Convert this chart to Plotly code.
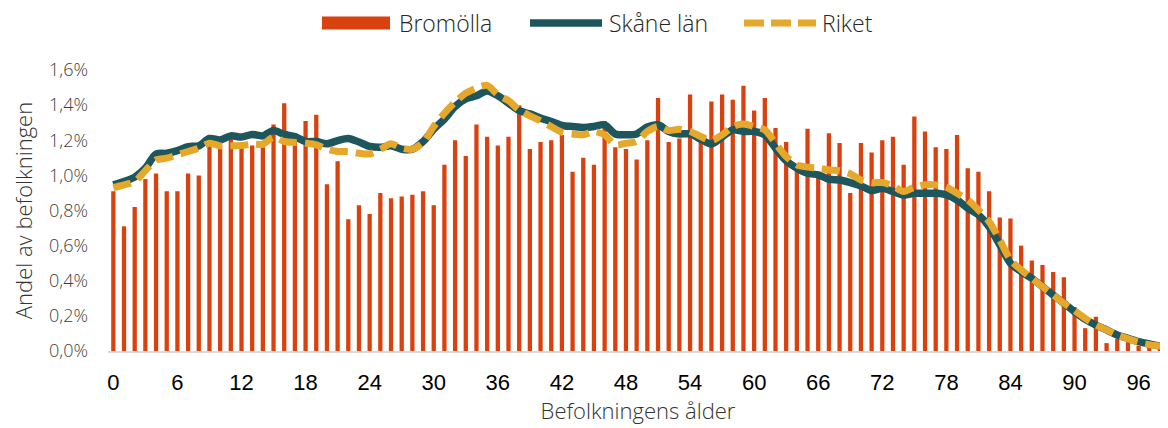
import plotly.graph_objects as go

ages = list(range(0, 100))

# Bromölla, andel av befolkningen (%)
bromolla = [0.91, 0.71, 0.82, 0.98, 1.01, 0.91, 0.91, 1.01, 1.00, 1.22,
            1.19, 1.24, 1.16, 1.17, 1.16, 1.29, 1.41, 1.24, 1.31, 1.345,
            0.95, 1.08, 0.75, 0.83, 0.78, 0.90, 0.87, 0.88, 0.89, 0.91,
            0.83, 1.06, 1.20, 1.11, 1.29, 1.22, 1.17, 1.22, 1.40, 1.15,
            1.19, 1.20, 1.23, 1.02, 1.10, 1.06, 1.31, 1.16, 1.15, 1.09,
            1.20, 1.44, 1.19, 1.21, 1.46, 1.19, 1.42, 1.46, 1.43, 1.51,
            1.37, 1.44, 1.27, 1.19, 1.05, 1.265, 1.00, 1.24, 1.185, 0.90,
            1.185, 1.13, 1.20, 1.22, 1.06, 1.335, 1.25, 1.16, 1.15, 1.23,
            1.04, 1.02, 0.91, 0.76, 0.755, 0.60, 0.515, 0.49, 0.45, 0.42,
            0.25, 0.13, 0.195, 0.045, 0.07, 0.05, 0.03, 0.02, 0.01, 0.01]

skane = [0.946, 0.965, 0.99, 1.041, 1.121, 1.126, 1.141, 1.164, 1.168, 1.21,
         1.202, 1.225, 1.218, 1.233, 1.225, 1.255, 1.233, 1.221, 1.193, 1.193,
         1.18, 1.198, 1.21, 1.19, 1.165, 1.16, 1.168, 1.149, 1.149, 1.193,
         1.263, 1.32, 1.392, 1.436, 1.453, 1.481, 1.453, 1.411, 1.368, 1.35,
         1.326, 1.307, 1.284, 1.278, 1.273, 1.278, 1.288, 1.236, 1.231, 1.236,
         1.275, 1.288, 1.25, 1.236, 1.236, 1.206, 1.178, 1.218, 1.259, 1.25,
         1.25, 1.231, 1.155, 1.083, 1.041, 1.012, 1.003, 0.978, 0.974, 0.959,
         0.94, 0.913, 0.927, 0.908, 0.889, 0.898, 0.898, 0.898, 0.889, 0.86,
         0.813, 0.775, 0.708, 0.604, 0.5, 0.452, 0.414, 0.366, 0.319, 0.272,
         0.224, 0.18, 0.148, 0.12, 0.091, 0.072, 0.053, 0.04, 0.028, 0.021]

riket = [0.93, 0.946, 0.965, 1.027, 1.088, 1.098, 1.117, 1.136, 1.155, 1.183,
         1.168, 1.168, 1.17, 1.178, 1.178, 1.218, 1.193, 1.187, 1.183, 1.174,
         1.149, 1.136, 1.136, 1.126, 1.122, 1.149, 1.18, 1.155, 1.149, 1.187,
         1.278, 1.354, 1.417, 1.468, 1.497, 1.512, 1.459, 1.425, 1.373, 1.339,
         1.311, 1.278, 1.246, 1.236, 1.231, 1.25, 1.231, 1.174, 1.183, 1.193,
         1.25, 1.278, 1.255, 1.263, 1.25, 1.221, 1.198, 1.231, 1.278, 1.292,
         1.278, 1.259, 1.183, 1.107, 1.06, 1.047, 1.041, 1.031, 1.027, 1.009,
         0.974, 0.959, 0.959, 0.94, 0.908, 0.933, 0.946, 0.946, 0.933, 0.898,
         0.86, 0.803, 0.737, 0.632, 0.519, 0.462, 0.414, 0.366, 0.319, 0.272,
         0.23, 0.186, 0.148, 0.12, 0.091, 0.07, 0.05, 0.036, 0.028, 0.02]

tick_ages = list(range(0, 97, 6))

LIGHT = "Open Sans, Lato, sans-serif"
ARIAL = "Liberation Sans, Arial, sans-serif"
BAR_COLOR = "#D9410E"
SKANE_COLOR = "#1E565E"
RIKET_COLOR = "#E6A82A"

# page has an 8px body margin, so everything is placed 8px up/left
L, R, T, B = 100, 8, 62, 85
W, H = 1168, 428
PW, PH = W - L - R, H - T - B


def px_x(x):
    return (x - L) / PW


def px_y(y):
    return (H - B - y) / PH


fig = go.Figure()

fig.add_trace(go.Bar(
    x=ages, y=[v / 100 for v in bromolla],
    name="Bromölla",
    marker=dict(color=BAR_COLOR, line=dict(width=0)),
))

fig.add_trace(go.Scatter(
    x=ages, y=[v / 100 for v in skane],
    name="Skåne län", mode="lines",
    line=dict(color=SKANE_COLOR, width=7.5, shape="spline", smoothing=0.8),
))

fig.add_trace(go.Scatter(
    x=ages, y=[v / 100 for v in riket],
    name="Riket", mode="lines",
    line=dict(color=RIKET_COLOR, width=7, dash="18px,8px",
              shape="spline", smoothing=0.8),
))

# legend drawn by hand so the swatches get the original's wide shape
ly = 15
legend_items = [
    ("Bromölla", 389),
    ("Skåne län", 599),
    ("Riket", 812),
]
fig.add_shape(type="rect", xref="paper", yref="paper",
              x0=px_x(314), x1=px_x(382), y0=px_y(ly + 6.5), y1=px_y(ly - 6.5),
              fillcolor=BAR_COLOR, line=dict(width=0))
fig.add_shape(type="line", xref="paper", yref="paper",
              x0=px_x(522), x1=px_x(594), y0=px_y(ly), y1=px_y(ly),
              line=dict(color=SKANE_COLOR, width=7.5))
fig.add_shape(type="line", xref="paper", yref="paper",
              x0=px_x(736), x1=px_x(808), y0=px_y(ly), y1=px_y(ly),
              line=dict(color=RIKET_COLOR, width=7, dash="20px,7px"))
for name, tx in legend_items:
    fig.add_annotation(text=name, xref="paper", yref="paper",
                       x=px_x(tx), y=px_y(ly), xanchor="left", yanchor="middle",
                       showarrow=False,
                       font=dict(family=LIGHT, size=23, color="#262626", weight=300))

fig.update_layout(
    width=W, height=H,
    margin=dict(l=L, r=R, t=T, b=B),
    plot_bgcolor="white", paper_bgcolor="white",
    separators=", ",
    bargap=0.6,
    font=dict(family=LIGHT, color="#404040", weight=300),
    showlegend=False,
)

fig.update_xaxes(
    range=[-0.5, -0.5 + PW / 10.68], automargin=False,
    tickmode="array", tickvals=tick_ages, ticktext=[str(t) for t in tick_ages],
    tickfont=dict(family=ARIAL, size=22, color="#000000"),
    ticks="", ticklabelstandoff=11, showgrid=False, zeroline=False,
    showline=True, linecolor="#D9D9D9", linewidth=1.5,
    title=dict(text="Befolkningens ålder",
               font=dict(size=22, color="#333333", weight=300), standoff=7),
)

fig.update_yaxes(
    range=[0, 0.016], automargin=False,
    tickvals=[i * 0.002 for i in range(9)],
    tickformat=".1%",
    tickfont=dict(size=18, color="#3F3F3F", weight=300),
    ticks="", ticklabelstandoff=19,
    showgrid=False, zeroline=False, showline=False,
    title=dict(text="Andel av befolkningen",
               font=dict(size=22, color="#333333", weight=300), standoff=14),
)

fig.write_html("out.html")
